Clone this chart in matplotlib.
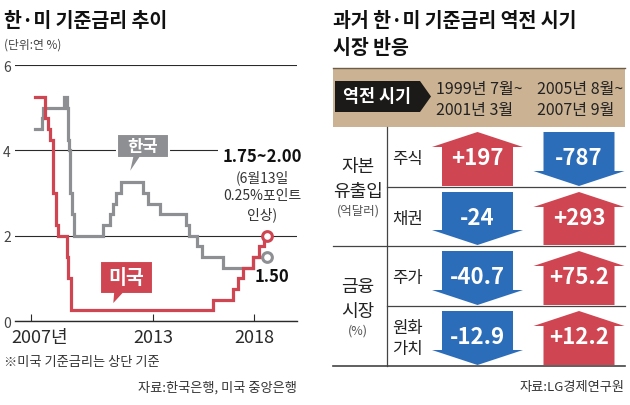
import matplotlib
matplotlib.use('Agg')
import matplotlib.pyplot as plt
from matplotlib.patches import Polygon, Rectangle

plt.rcParams['font.family'] = ['Noto Sans CJK KR', 'DejaVu Sans']
NUM_FONT = ['Liberation Sans Narrow', 'Noto Sans CJK KR', 'DejaVu Sans']

RED = '#cf4551'
BLUE = '#2c6db9'
GRAY = '#8d8f92'
TAN = '#cbb293'
INK = '#2a2a2a'

# 한국 기준금리 (변경 시점, 연 %)
kr_dates = [2007.2, 2007.53, 2007.61, 2008.6, 2008.77, 2008.82, 2008.85, 2008.94, 2009.02,
            2009.12, 2010.52, 2010.88, 2011.04, 2011.19, 2011.44, 2012.53, 2012.78, 2013.35,
            2014.62, 2014.79, 2015.19, 2015.44, 2016.44, 2017.91, 2018.62]
kr_rates = [4.5, 4.75, 5.0, 5.25, 5.0, 4.25, 4.0, 3.0, 2.5,
            2.0, 2.25, 2.5, 2.75, 3.0, 3.25, 3.0, 2.75, 2.5,
            2.25, 2.0, 1.75, 1.5, 1.25, 1.5, 1.5]
# 미국 기준금리 (상단)
us_dates = [2007.2, 2007.71, 2007.83, 2007.94, 2008.06, 2008.08, 2008.21, 2008.33, 2008.77,
            2008.83, 2008.96, 2015.96, 2016.95, 2017.2, 2017.45, 2017.95, 2018.22, 2018.45, 2018.62]
us_rates = [5.25, 4.75, 4.5, 4.25, 3.5, 3.0, 2.25, 2.0, 1.5,
            1.0, 0.25, 0.5, 0.75, 1.0, 1.25, 1.5, 1.75, 2.0, 2.0]

xtick_years = [2007, 2013, 2018]
xtick_labels = ['2007년', '2013', '2018']
ytick_vals = [0, 2, 4, 6]

# 역전 시기 시장 반응
periods = ['1999년 7월~\n2001년 3월', '2005년 8월~\n2007년 9월']
groups = [('자본', '유출입', '(억달러)'), ('금융', '시장', '(%)')]
items = ['주식', '채권', '주가', '원화\n가치']
period1 = [197, -24, -40.7, -12.9]
period2 = [-787, 293, 75.2, 12.2]

fig = plt.figure(figsize=(6.3, 4.06), dpi=100)

# ---- left: line chart
ax = fig.add_axes([15 / 630, 1 - 322 / 406, 282 / 630, 256 / 406])
ax.patch.set_alpha(0)
ax.set_xlim(2006.21, 2020.10)
ax.set_ylim(0, 6)
ax.step(kr_dates, kr_rates, where='post', color=GRAY, lw=2.3, solid_joinstyle='miter')
ax.step(us_dates, us_rates, where='post', color=RED, lw=2.3, solid_joinstyle='miter')
ax.plot(kr_dates[-1], kr_rates[-1], 'o', ms=7, mfc='white', mec=GRAY, mew=2.2, clip_on=False)
ax.plot(us_dates[-1], us_rates[-1], 'o', ms=7, mfc='white', mec=RED, mew=2.2, clip_on=False)

for s in ['left', 'right', 'top']:
    ax.spines[s].set_visible(False)
ax.spines['bottom'].set_color(INK)
ax.spines['bottom'].set_linewidth(1)
ax.set_yticks(ytick_vals)
ax.set_yticklabels([str(v) for v in ytick_vals])
ax.grid(axis='y', color=INK, lw=0.8)
ax.set_axisbelow(True)
ax.tick_params(axis='y', length=0, pad=3, labelsize=10, labelcolor='#444')
ax.set_xticks(xtick_years)
ax.set_xticklabels([])
ax.tick_params(axis='x', direction='in', length=5, width=0.8, color=INK)
for yr, lab in zip(xtick_years, xtick_labels):
    dx = 6 if lab.endswith('년') else 0
    ax.annotate(lab, xy=(yr, 0), xycoords=('data', 'axes fraction'), xytext=(dx, -5),
                textcoords='offset points', ha='center', va='top', fontsize=13,
                family=NUM_FONT, color=INK, annotation_clip=False)

# ---- overlay in pixel coordinates
fx = fig.add_axes([0, 0, 1, 1])
fx.set_xlim(0, 630)
fx.set_ylim(406, 0)
fx.axis('off')

fx.text(4, 21, '한·미 기준금리 추이', fontsize=14, fontweight='bold', va='center', color='#111')
fx.text(4, 45, '(단위:연 %)', fontsize=8.5, va='center', color='#444')

fx.add_patch(Polygon([(117, 135), (169, 135), (169, 159), (140, 159), (128, 177), (132, 159), (117, 159)],
                     closed=True, fc=GRAY, ec='white', lw=1.5))
fx.text(143, 147, '한국', color='white', fontsize=12, fontweight='bold', ha='center', va='center')
fx.add_patch(Polygon([(100, 262), (153, 262), (153, 295), (123, 295), (112, 307), (113, 295), (100, 295)],
                     closed=True, fc=RED, ec='white', lw=1.5))
fx.text(126.5, 278.5, '미국', color='white', fontsize=14, fontweight='bold', ha='center', va='center')

fx.text(262, 157, '1.75~2.00', fontsize=12, fontweight='bold', ha='center', va='center',
        family=NUM_FONT, color='#111', bbox=dict(fc='white', ec='none', pad=3))
fx.text(262, 196, '(6월13일\n0.25%포인트\n인상)', fontsize=10, ha='center', va='center',
        linespacing=1.35, color='#333')
fx.text(272, 277, '1.50', fontsize=12, fontweight='bold', ha='center', va='center',
        family=NUM_FONT, color='#111')

fx.text(4, 363, '※미국 기준금리는 상단 기준', fontsize=9.5, va='center', color='#333')
fx.text(297, 388, '자료:한국은행, 미국 중앙은행', fontsize=9.5, ha='right', va='center', color='#333')

# ---- right: table
fx.text(333, 21, '과거 한·미 기준금리 역전 시기', fontsize=14, fontweight='bold', va='center', color='#111')
fx.text(333, 48, '시장 반응', fontsize=14, fontweight='bold', va='center', color='#111')

L, R = 333, 625
row_edges = [128, 188, 247, 307, 367]
col_x = [477.5, 579]
split_x = 387

fx.add_patch(Rectangle((L, 69), R - L, row_edges[0] - 69, fc=TAN, ec='none'))
fx.plot([L, R], [69, 69], color='#6d5d47', lw=1)
fx.add_patch(Polygon([(335, 82), (420, 82), (431, 97.5), (420, 113), (335, 113)], closed=True, fc='#1c1a18', ec='none'))
fx.text(377, 97.5, '역전 시기', color='white', fontsize=12.5, fontweight='bold', ha='center', va='center')
for cx, per in zip(col_x, periods):
    fx.text(cx - 42, 100, per, fontsize=11.5, ha='left', va='center', color='#222',
            family=NUM_FONT, linespacing=1.3)

fx.plot([split_x, split_x], [row_edges[0], row_edges[-1]], color='#444', lw=0.9)
for i, y in enumerate(row_edges[1:]):
    x0 = L if i % 2 == 1 else split_x
    fx.plot([x0, R], [y, y], color='#444', lw=0.9 if i < 3 else 1.2)

for g, (a, b, unit) in enumerate(groups):
    yc = (row_edges[2 * g] + row_edges[2 * g + 2]) / 2
    fx.text(358, yc - 20, a, fontsize=13, ha='center', va='center', color='#222')
    fx.text(358, yc + 5, b, fontsize=13, ha='center', va='center', color='#222')
    fx.text(358, yc + 24, unit, fontsize=9, ha='center', va='center', color='#555')

for r, name in enumerate(items):
    yc = (row_edges[r] + row_edges[r + 1]) / 2
    fx.text(392, yc + 2, name, fontsize=12, ha='left', va='center', color='#222', linespacing=1.25)


def arrow(cx, top, bot, up, color):
    bw, hw, hh = 35.5, 45.5, 15
    if up:
        pts = [(cx, top), (cx + hw, top + hh), (cx + bw, top + hh), (cx + bw, bot),
               (cx - bw, bot), (cx - bw, top + hh), (cx - hw, top + hh)]
    else:
        pts = [(cx - bw, top), (cx + bw, top), (cx + bw, bot - hh), (cx + hw, bot - hh),
               (cx, bot), (cx - hw, bot - hh), (cx - bw, bot - hh)]
    fx.add_patch(Polygon(pts, closed=True, fc=color, ec='none'))


for cx, vals in zip(col_x, [period1, period2]):
    for r, v in enumerate(vals):
        top, bot = row_edges[r] + 5, row_edges[r + 1] - 1
        arrow(cx, top, bot, v > 0, RED if v > 0 else BLUE)
        fx.text(cx, (row_edges[r] + row_edges[r + 1]) / 2 + 1, f'{v:+g}', color='white',
                fontsize=16, fontweight='bold', ha='center', va='center', family=NUM_FONT)

fx.text(625, 388, '자료:LG경제연구원', fontsize=9.5, ha='right', va='center', color='#333')

fig.savefig('out.png', dpi=100)
